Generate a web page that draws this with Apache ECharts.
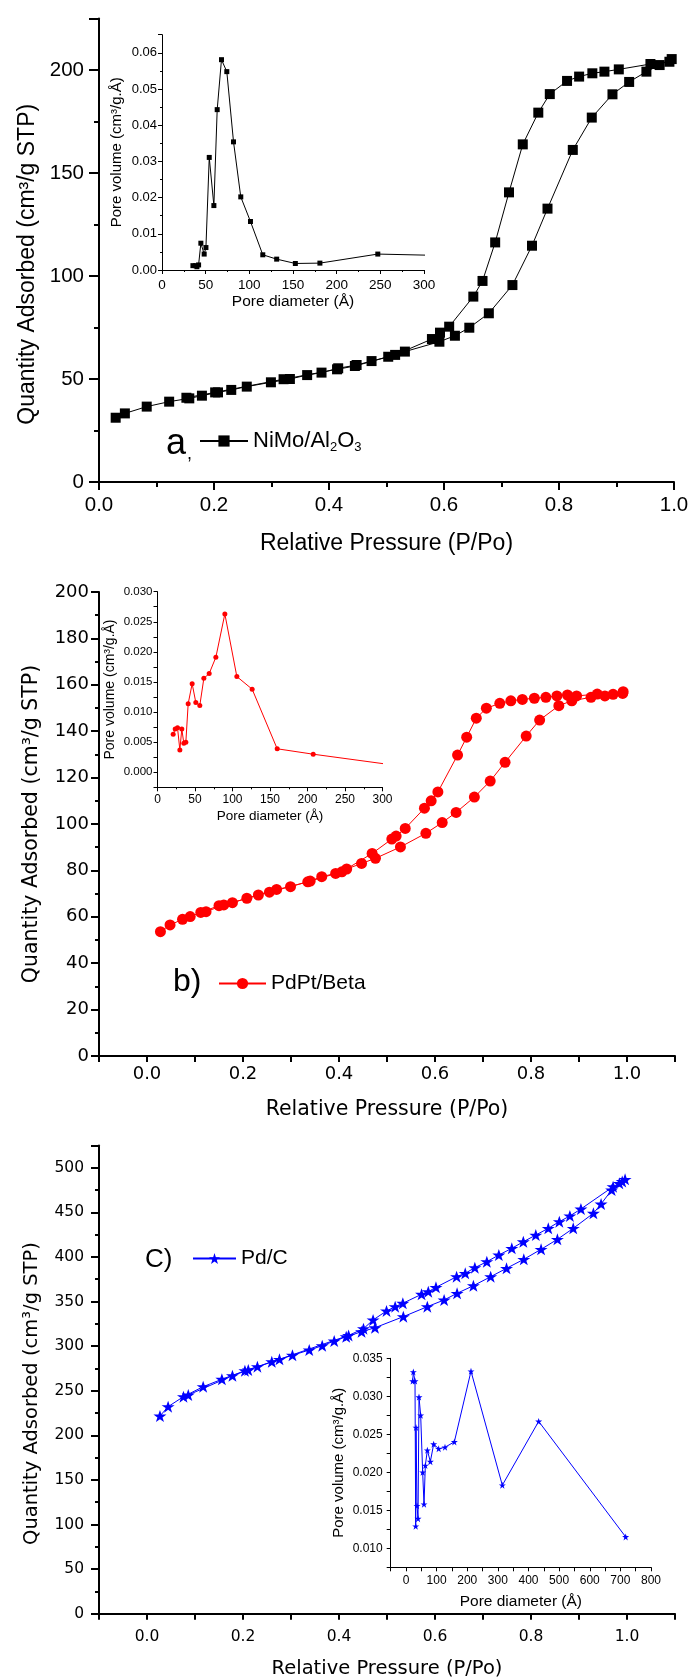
<!DOCTYPE html>
<html>
<head>
<meta charset="utf-8">
<script src="https://cdn.jsdelivr.net/npm/echarts@6/dist/echarts.min.js"></script>
<style>
  html, body { margin: 0; padding: 0; background: #fff; }
  #chart { width: 692px; height: 1680px; }
</style>
</head>
<body>
<div id="chart"></div>
<script>
// ---- (a) NiMo/Al2O3 nitrogen isotherm: adsorption branch, then desorption branch ----
const nimoAdsP = [0.029,0.045,0.083,0.122,0.157,0.179,0.207,0.230,0.257,0.299,0.332,0.362,0.387,0.416,0.448,0.474,0.503,0.532,0.592,0.619,0.644,0.678,0.719,0.753,0.780,0.824,0.857,0.893,0.922,0.952,0.975,0.996];
const nimoAdsQ = [31.2,33.3,36.6,39.0,40.6,41.9,43.5,44.7,46.3,48.4,50.0,51.9,53.1,55.2,56.8,58.7,60.8,63.3,68.1,71.0,74.9,81.9,95.6,114.7,132.7,161.2,176.9,188.2,194.2,199.2,202.4,205.3];
const nimoDesP = [0.992,0.959,0.904,0.879,0.858,0.835,0.814,0.784,0.764,0.737,0.713,0.689,0.667,0.651,0.609,0.593,0.579,0.515,0.445,0.414,0.321,0.202,0.152];
const nimoDesQ = [204.0,202.9,200.3,199.2,198.4,196.8,194.7,188.3,179.3,163.9,140.6,116.3,97.6,90.0,75.4,72.5,69.4,61.7,56.3,54.7,49.9,43.5,40.9];
// (a) inset: pore size distribution
const nimoPoreD = [35.4,38.5,40.0,41.9,44.5,48.3,50.3,54.1,59.4,63.2,68.1,74.2,81.9,90.2,101.3,115.4,131.3,152.7,180.8,247.1,340];
const nimoPoreV = [0.0012,0.0012,0.0009,0.0014,0.0074,0.0044,0.0062,0.0311,0.0178,0.0443,0.0581,0.0548,0.0354,0.0202,0.0134,0.0042,0.0030,0.0018,0.0019,0.0044,0.0039];

// ---- (b) PdPt/Beta ----
const pdptAdsP = [0.028,0.048,0.074,0.090,0.112,0.150,0.178,0.208,0.232,0.270,0.299,0.335,0.364,0.393,0.416,0.447,0.476,0.528,0.581,0.615,0.644,0.682,0.715,0.746,0.790,0.818,0.858,0.885,0.925,0.954,0.971,0.992];
const pdptAdsQ = [53.6,56.5,58.9,60.1,61.9,64.8,66.1,68.0,69.4,71.8,73.0,75.1,77.3,78.7,80.6,83.0,85.2,90.1,96.0,100.6,105.0,111.6,118.5,126.6,137.9,144.8,151.0,153.1,154.6,155.2,155.9,157.0];
const pdptDesP = [0.991,0.938,0.895,0.876,0.854,0.831,0.807,0.782,0.758,0.735,0.707,0.686,0.666,0.647,0.606,0.592,0.578,0.538,0.519,0.510,0.469,0.406,0.340,0.255,0.160,0.123];
const pdptDesQ = [156.3,156.0,155.2,155.6,155.2,154.6,154.2,153.7,153.1,152.0,149.9,145.6,137.4,129.7,113.8,110.0,106.8,98.1,94.8,93.5,87.3,79.4,75.4,70.6,65.1,62.2];
const pdptPoreD = [20.9,23.6,26.7,29.8,32.4,35.1,37.8,40.9,46.2,51.1,56.4,61.8,68.9,77.8,89.8,105.8,126.2,159.6,207.6,350];
const pdptPoreV = [0.0063,0.0072,0.0074,0.0037,0.0072,0.0048,0.0050,0.0114,0.0147,0.0116,0.0111,0.0156,0.0164,0.0191,0.0263,0.0159,0.0138,0.0039,0.0030,0.0006];

// ---- (c) Pd/C ----
const pdcAdsP = [0.027,0.044,0.076,0.117,0.156,0.204,0.230,0.260,0.303,0.338,0.365,0.390,0.415,0.447,0.475,0.534,0.584,0.619,0.646,0.680,0.716,0.749,0.785,0.821,0.855,0.888,0.930,0.946,0.968,0.984,0.996];
const pdcAdsQ = [221.6,232.1,243.3,254.5,262.8,272.4,276.9,282.5,289.7,295.6,300.4,305.7,310.5,316.1,320.6,333.0,344.2,351.7,359.2,367.7,377.8,387.2,397.3,408.5,419.7,432.0,448.9,459.3,475.0,482.5,487.0];
const pdcDesP = [0.990,0.971,0.904,0.881,0.859,0.836,0.810,0.784,0.760,0.733,0.708,0.683,0.663,0.645,0.602,0.586,0.572,0.533,0.517,0.499,0.471,0.451,0.420,0.276,0.211,0.178,0.086];
const pdcDesQ = [484.5,478.7,453.7,445.9,439.5,432.0,424.5,417.0,409.6,402.1,394.6,387.9,381.6,377.8,365.9,361.0,358.1,348.0,344.2,339.4,329.3,319.5,312.0,285.2,273.2,266.8,245.2];
const pdcPoreD = [21.8,23.9,29.4,31.6,32.7,35.9,39.2,42.4,47.9,54.4,58.8,63.1,69.7,79.5,90.3,106.7,127.3,157.8,212.2,314.5,433.2,717.3];
const pdcPoreV = [0.0320,0.0332,0.0320,0.0129,0.0259,0.0156,0.0139,0.0299,0.0275,0.0200,0.0158,0.0209,0.0229,0.0214,0.0237,0.0231,0.0233,0.0240,0.0333,0.0183,0.0267,0.0115];

// Text used on the axes
const qtyName = 'Quantity Adsorbed (cm³/g STP)';
const pressName = 'Relative Pressure (P/Po)';
const poreVolName = 'Pore volume (cm³/g.Å)';
const poreDiaName = 'Pore diameter (Å)';

const zip = (xs, ys) => xs.map((x, i) => [x, ys[i]]);
const loop = (ap, aq, dp, dq) => zip(ap, aq).concat(zip(dp, dq));

const FONT = "'Liberation Sans', Arial, sans-serif";
const WIDE = "'DejaVu Sans', 'Liberation Sans', sans-serif";
const STAR = 'path://M50,0 L61.8,35.1 L98.9,35.1 L69.1,56.7 L80.3,91.9 L50,70.2 L19.7,91.9 L30.9,56.7 L1.1,35.1 L38.2,35.1 Z';

function axis(o) {
  const a = {
    type: 'value',
    gridIndex: o.grid,
    min: o.min, max: o.max, interval: o.interval,
    splitLine: { show: false },
    axisLine: { show: true, onZero: false, lineStyle: { color: '#000', width: o.lw } },
    axisTick: { show: true, length: o.tick, lineStyle: { color: '#000', width: o.lw } },
    axisLabel: { color: '#000', fontFamily: o.font || FONT, fontSize: o.fs, margin: o.margin,
                 formatter: o.fmt, showMinLabel: true, showMaxLabel: true },
    name: o.name, nameLocation: 'middle', nameGap: o.gap,
    nameTextStyle: { color: '#000', fontFamily: o.font || FONT, fontSize: o.nfs,
                     padding: o.npad || 0 }
  };
  if (o.minor) a.minorTick = { show: true, splitNumber: o.minor, length: o.minorLen,
                               lineStyle: { color: '#000', width: o.lw } };
  return a;
}

// label formatters
const f1 = v => v.toFixed(1);
const evenTenth = v => (Math.round(v * 10) % 2 === 0 ? (Math.round(v * 10) / 10).toFixed(1) : '');
const upTo = (lim, dec) => v => (v > lim + 1e-9 ? '' : v.toFixed(dec));
const step = (s, lim, dec) => v => {
  const k = Math.round(v / s);
  if (Math.abs(v - k * s) > s * 1e-3 || v > lim + 1e-9) return '';
  return (k * s).toFixed(dec);
};

const option = {
  animation: false,
  backgroundColor: '#fff',
  grid: [
    { left: 99, top: 18.5, width: 575, height: 463.5 },
    { left: 162, top: 34.7, width: 262, height: 235.3 },
    { left: 99, top: 592, width: 576, height: 464 },
    { left: 157.5, top: 591.7, width: 225, height: 195.6 },
    { left: 99, top: 1145.4, width: 576, height: 468.3 },
    { left: 390.7, top: 1358.3, width: 260.3, height: 209 }
  ],
  xAxis: [
    axis({ grid: 0, min: 0, max: 1, interval: 0.2, lw: 2, tick: 8, minor: 2, minorLen: 5,
           fs: 20.5, margin: 13, fmt: f1, name: pressName, gap: 50, nfs: 23 }),
    axis({ grid: 1, min: 0, max: 300, interval: 50, lw: 1, tick: 4, minor: 2, minorLen: 2,
           fs: 13.5, margin: 8, name: poreDiaName, gap: 24, nfs: 15.5 }),
    axis({ grid: 2, min: -0.1, max: 1.1, interval: 0.1, lw: 2, tick: 6, font: WIDE,
           fs: 18, margin: 9, fmt: evenTenth, name: pressName, gap: 43, nfs: 20.5 }),
    axis({ grid: 3, min: 0, max: 300, interval: 50, lw: 1, tick: 4, minor: 2, minorLen: 2,
           fs: 12, margin: 6, name: poreDiaName, gap: 22, nfs: 13.5 }),
    axis({ grid: 4, min: -0.1, max: 1.1, interval: 0.1, lw: 2, tick: 6, font: WIDE,
           fs: 15.5, margin: 15, fmt: evenTenth, name: pressName, gap: 45, nfs: 19.5 }),
    axis({ grid: 5, min: -50, max: 800, interval: 50, lw: 1, tick: 4,
           fs: 12, margin: 7, fmt: step(100, 800, 0), name: poreDiaName, gap: 26, nfs: 15.5 })
  ],
  yAxis: [
    axis({ grid: 0, min: 0, max: 225, interval: 50, lw: 2, tick: 10, minor: 2, minorLen: 5,
           fs: 20.5, margin: 15, fmt: upTo(200, 0), name: qtyName, gap: 57, nfs: 23,
           npad: [0, 28, 0, 0] }),
    axis({ grid: 1, min: 0, max: 0.065, interval: 0.01, lw: 1, tick: 4, minor: 2, minorLen: 2,
           fs: 13, margin: 5, fmt: upTo(0.06, 2), name: poreVolName, gap: 38, nfs: 15 }),
    axis({ grid: 2, min: 0, max: 200, interval: 20, lw: 2, tick: 8, minor: 2, minorLen: 4, font: WIDE,
           fs: 18, margin: 10, fmt: v => v.toFixed(0), name: qtyName, gap: 57, nfs: 20.5 }),
    axis({ grid: 3, min: -0.0025, max: 0.03, interval: 0.0025, lw: 1, tick: 4,
           fs: 11.5, margin: 5, fmt: step(0.005, 0.03, 3), name: poreVolName, gap: 40, nfs: 14 }),
    axis({ grid: 4, min: 0, max: 525, interval: 50, lw: 2, tick: 8, minor: 2, minorLen: 4, font: WIDE,
           fs: 15.5, margin: 15, fmt: upTo(500, 0), name: qtyName, gap: 57, nfs: 19.5,
           npad: [0, 28, 0, 0] }),
    axis({ grid: 5, min: 0.0075, max: 0.035, interval: 0.0025, lw: 1, tick: 4,
           fs: 12, margin: 8, fmt: step(0.005, 0.035, 3), name: poreVolName, gap: 44, nfs: 15 })
  ],
  legend: [
    { data: ['NiMo/Al2O3'], left: 199, top: 430, padding: 0, itemWidth: 48, itemHeight: 14,
      selectedMode: false,
      formatter: () => '{t|NiMo/Al}{s|2}{t|O}{s|3}',
      textStyle: { color: '#000', fontFamily: FONT, fontSize: 22,
        rich: { t: { fontFamily: FONT, fontSize: 22, color: '#000' },
                s: { fontFamily: FONT, fontSize: 13, color: '#000', padding: [12, 0, 0, 0] } } } },
    { data: ['PdPt/Beta'], left: 218, top: 973, padding: 0, itemWidth: 47, itemHeight: 14,
      selectedMode: false,
      textStyle: { color: '#000', fontFamily: FONT, fontSize: 21 } },
    { data: ['Pd/C'], left: 192, top: 1248, padding: 0, itemWidth: 43, itemHeight: 14,
      selectedMode: false,
      textStyle: { color: '#000', fontFamily: FONT, fontSize: 21 } }
  ],
  graphic: [
    { type: 'text', left: 166, top: 426, silent: true,
      style: { text: 'a', font: '36px ' + FONT, fill: '#000' } },
    { type: 'text', left: 187, top: 445, silent: true,
      style: { text: ',', font: '18px ' + FONT, fill: '#000' } },
    { type: 'text', left: 173, top: 966, silent: true,
      style: { text: 'b)', font: '32px ' + FONT, fill: '#000' } },
    { type: 'text', left: 145, top: 1247, silent: true,
      style: { text: 'C)', font: '26px ' + FONT, fill: '#000' } }
  ],
  series: [
    { name: 'NiMo/Al2O3', type: 'line', xAxisIndex: 0, yAxisIndex: 0,
      data: loop(nimoAdsP, nimoAdsQ, nimoDesP, nimoDesQ),
      symbol: 'rect', symbolSize: 10, itemStyle: { color: '#000' },
      lineStyle: { color: '#000', width: 1 } },
    { name: 'nimo-psd', type: 'line', xAxisIndex: 1, yAxisIndex: 1, clip: true,
      data: zip(nimoPoreD, nimoPoreV),
      symbol: 'rect', symbolSize: 5, itemStyle: { color: '#000' },
      lineStyle: { color: '#000', width: 1 } },
    { name: 'PdPt/Beta', type: 'line', xAxisIndex: 2, yAxisIndex: 2,
      data: loop(pdptAdsP, pdptAdsQ, pdptDesP, pdptDesQ),
      symbol: 'circle', symbolSize: 11, itemStyle: { color: '#ff0000' },
      lineStyle: { color: '#ff0000', width: 1 } },
    { name: 'pdpt-psd', type: 'line', xAxisIndex: 3, yAxisIndex: 3, clip: true,
      data: zip(pdptPoreD, pdptPoreV),
      symbol: 'circle', symbolSize: 5, itemStyle: { color: '#ff0000' },
      lineStyle: { color: '#ff0000', width: 1 } },
    { name: 'Pd/C', type: 'line', xAxisIndex: 4, yAxisIndex: 4,
      data: loop(pdcAdsP, pdcAdsQ, pdcDesP, pdcDesQ),
      symbol: STAR, symbolSize: [13, 12], itemStyle: { color: '#0000ff' },
      lineStyle: { color: '#0000ff', width: 1 } },
    { name: 'pdc-psd', type: 'line', xAxisIndex: 5, yAxisIndex: 5, clip: true,
      data: zip(pdcPoreD, pdcPoreV),
      symbol: STAR, symbolSize: [7, 7], itemStyle: { color: '#0000ff' },
      lineStyle: { color: '#0000ff', width: 1 } }
  ]
};

const chart = echarts.init(document.getElementById('chart'), null, { renderer: 'canvas' });
chart.setOption(option);
</script>
</body>
</html>
